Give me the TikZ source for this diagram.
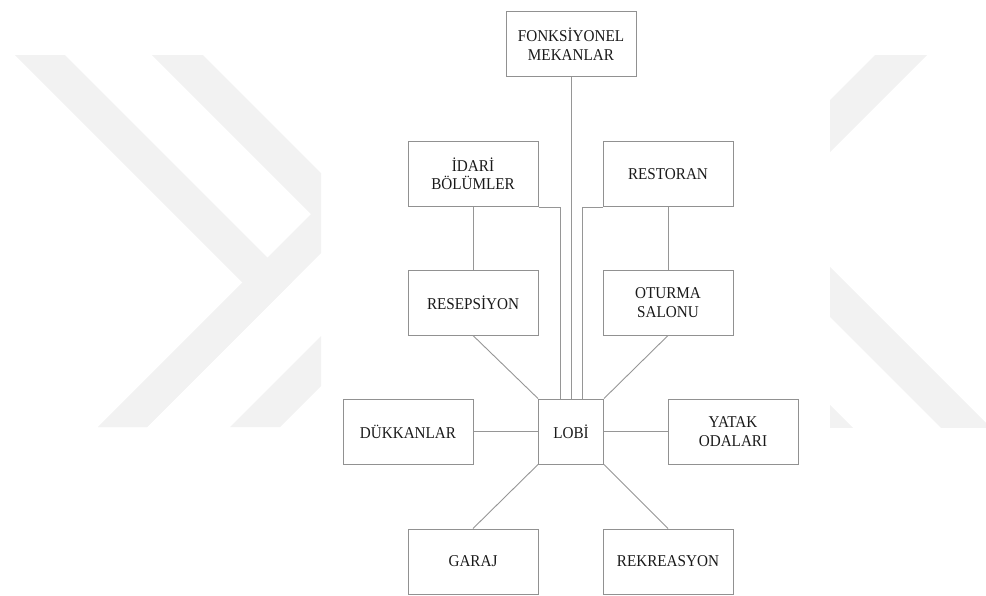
\documentclass[tikz,border=0pt]{standalone}
\usepackage{fontspec}
\setmainfont{Liberation Serif}[FakeStretch=0.92]
\usepackage{tikz}
\definecolor{boxline}{RGB}{145,145,145}
\definecolor{linkline}{RGB}{150,150,150}
\definecolor{wmgrey}{RGB}{242,242,242}
\definecolor{label}{RGB}{25,25,25}
\tikzset{
  room/.style={draw=boxline, line width=1pt, minimum width=130pt, minimum height=65pt,
    inner sep=2pt, align=center, text=label, font=\fontsize{16.5}{18.5}\selectfont},
  link/.style={draw=linkline, line width=0.9pt}
}

\begin{document}
\begin{tikzpicture}[x=1pt,y=-1pt]
  \useasboundingbox (0,0) rectangle (986,595);
  % watermark, left part
  \begin{scope}
    \clip (0,55) rectangle (321,427);
    \fill[wmgrey] (15,55) -- (65,55) -- (292,282) -- (147,427) -- (98,427) -- (242.5,282.5) -- cycle;
    \fill[wmgrey] (152,55) -- (203,55) -- (361,213) -- (147,427) -- (98,427) -- (311,214) -- cycle;
    \fill[wmgrey] (230,427) -- (280,427) -- (400,307) -- (350,307) -- cycle;
  \end{scope}
  % watermark, right part
  \begin{scope}
    \clip (830,55) rectangle (986,427);
    \fill[wmgrey] (875,55) -- (927,55) -- (800,182) -- (748,182) -- cycle;
    \fill[wmgrey] (800,237) -- (1050,487) -- (1050,537) -- (800,287) -- cycle;
    \fill[wmgrey] (800,375) -- (900,475) -- (900,525) -- (800,425) -- cycle;
  \end{scope}

  \node[room] (fonk) at (571,44) {FONKSİYONEL\\MEKANLAR};
  \node[room] (idari) at (473,174) {İDARİ\\BÖLÜMLER};
  \node[room] (restoran) at (668,174) {RESTORAN};
  \node[room] (resepsiyon) at (473,302.5) {RESEPSİYON};
  \node[room] (oturma) at (668,302.5) {OTURMA\\SALONU};
  \node[room, minimum width=65pt] (lobi) at (571,431.5) {LOBİ};
  \node[room] (dukkan) at (408,431.5) {DÜKKANLAR};
  \node[room] (yatak) at (733,431.5) {YATAK\\ODALARI};
  \node[room] (garaj) at (473,561.5) {GARAJ};
  \node[room] (rekreasyon) at (668,561.5) {REKREASYON};

  \coordinate (lobiL) at ([xshift=-11pt]lobi.north);
  \coordinate (lobiR) at ([xshift=11pt]lobi.north);
  \path[link]
    (fonk) edge (lobi)
    (idari) edge (resepsiyon)
    (restoran) edge (oturma)
    (resepsiyon.south) edge (lobi.north west)
    (oturma.south) edge (lobi.north east)
    (dukkan) edge (lobi)
    (lobi) edge (yatak)
    (lobi.south west) edge (garaj.north)
    (lobi.south east) edge (rekreasyon.north);
  \draw[link] (idari.south east) -| (lobiL);
  \draw[link] (restoran.south west) -| (lobiR);
\end{tikzpicture}
\end{document}
